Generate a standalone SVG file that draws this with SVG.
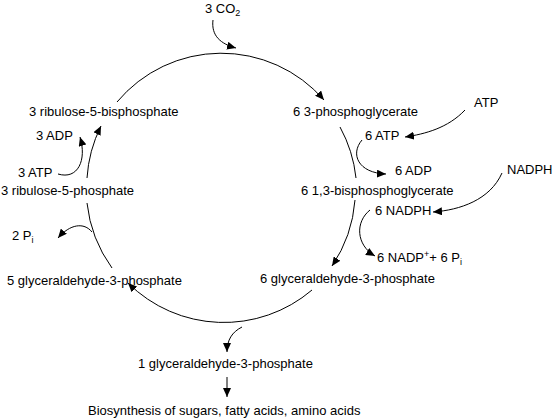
<svg xmlns="http://www.w3.org/2000/svg" width="553" height="420" viewBox="0 0 553 420">
<style>
text{font-family:"Liberation Sans",Arial,sans-serif;font-size:13px;fill:#000}
.c{fill:none;stroke:#000;stroke-width:1}
.s{font-size:9px}
</style>
<defs>
<marker id="ah" markerUnits="userSpaceOnUse" markerWidth="10" markerHeight="8" refX="9" refY="4" orient="auto"><path d="M0,0 L9,4 L0,8 z" fill="#000"/></marker>
</defs>
<rect width="553" height="420" fill="#fff"/>
<g id="connectors">
<path class="c" d="M117,102 A136,136 0 0 1 324,100" marker-end="url(#ah)"/>
<path class="c" d="M340,127 A136,136 0 0 1 356,178"/>
<path class="c" d="M355,200 A136,136 0 0 1 332,266" marker-end="url(#ah)"/>
<path class="c" d="M312,290 A136,136 0 0 1 128,283" marker-end="url(#ah)"/>
<path class="c" d="M112,268 A136,136 0 0 1 87,203"/>
<path class="c" d="M87,178 A136,136 0 0 1 101,126" marker-end="url(#ah)"/>
<path class="c" d="M213,20 C211,36 221,44 236,48" marker-end="url(#ah)"/>
<path class="c" d="M465,110 C448,128 425,134 405,137" marker-end="url(#ah)"/>
<path class="c" d="M362,140 C350,154 358,173 386,174" marker-end="url(#ah)"/>
<path class="c" d="M502,173 C490,200 460,210 433,212" marker-end="url(#ah)"/>
<path class="c" d="M370,210 C355,222 356,245 375,256" marker-end="url(#ah)"/>
<path class="c" d="M58,174 C78,180 87,160 80,137" marker-end="url(#ah)"/>
<path class="c" d="M92,232 C84,222 70,224 58,238" marker-end="url(#ah)"/>
<path class="c" d="M242,327 C232,332 227,340 227,352" marker-end="url(#ah)"/>
<path class="c" d="M227,377 L227,397" marker-end="url(#ah)"/>
</g>
<g id="co2"><text x="205" y="13">3 CO<tspan class="s" dy="3">2</tspan></text></g>
<g id="rubp"><text x="29" y="116">3 ribulose-5-bisphosphate</text></g>
<g id="adp3"><text x="36" y="140">3 ADP</text></g>
<g id="atp3"><text x="18" y="177">3 ATP</text></g>
<g id="ru5p"><text x="1" y="195">3 ribulose-5-phosphate</text></g>
<g id="pi2"><text x="12" y="240">2 P<tspan class="s" dy="3">i</tspan></text></g>
<g id="g3p5"><text x="7" y="285">5 glyceraldehyde-3-phosphate</text></g>
<g id="pga"><text x="293" y="116">6 3-phosphoglycerate</text></g>
<g id="atp"><text x="474" y="107">ATP</text></g>
<g id="atp6"><text x="365" y="140">6 ATP</text></g>
<g id="adp6"><text x="395" y="175">6 ADP</text></g>
<g id="nadph"><text x="507" y="174">NADPH</text></g>
<g id="bpg"><text x="301" y="195">6 1,3-bisphosphoglycerate</text></g>
<g id="nadph6"><text x="375" y="215">6 NADPH</text></g>
<g id="nadp6"><text x="377" y="262">6 NADP<tspan class="s" dy="-5">+</tspan><tspan dy="5">+ 6 P</tspan><tspan class="s" dy="3">i</tspan></text></g>
<g id="g3p6"><text x="260" y="283">6 glyceraldehyde-3-phosphate</text></g>
<g id="g3p1"><text x="138" y="368">1 glyceraldehyde-3-phosphate</text></g>
<g id="bio"><text x="88" y="415">Biosynthesis of sugars, fatty acids, amino acids</text></g>
</svg>
